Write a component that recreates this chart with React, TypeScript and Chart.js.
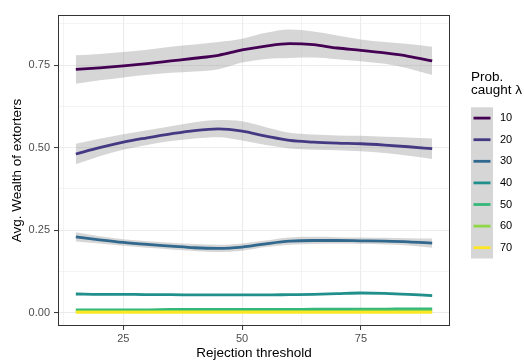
import { useEffect, useRef } from "react";
import { Chart, registerables } from "chart.js";

Chart.register(...registerables);

// Rejection thresholds at which the smoothed fits are evaluated
const threshold = [15, 20, 25, 30, 35, 40, 45, 50, 55, 60, 65, 70, 75, 80, 85, 90];

// Probability of being caught (λ) levels and their viridis colours
const lambdaLevels = ["10", "20", "30", "40", "50", "60", "70"];
const lambdaColors = ["#440154", "#443A83", "#31688E", "#21908C", "#35B779", "#8FD744", "#FDE725"];

// Smoothed average wealth of extorters with confidence band, per λ
const fit10 = [0.737, 0.742, 0.748, 0.755, 0.763, 0.771, 0.780, 0.796, 0.808, 0.815, 0.812, 0.802, 0.795, 0.787, 0.777, 0.763];
const hi10 = [0.780, 0.784, 0.790, 0.797, 0.806, 0.813, 0.820, 0.830, 0.848, 0.858, 0.852, 0.840, 0.828, 0.820, 0.814, 0.806];
const lo10 = [0.694, 0.704, 0.713, 0.721, 0.727, 0.731, 0.738, 0.758, 0.769, 0.772, 0.773, 0.768, 0.762, 0.754, 0.740, 0.720];

const fit20 = [0.481, 0.500, 0.517, 0.530, 0.542, 0.552, 0.557, 0.550, 0.535, 0.522, 0.517, 0.514, 0.512, 0.508, 0.503, 0.497];
const hi20 = [0.512, 0.527, 0.541, 0.553, 0.565, 0.577, 0.584, 0.580, 0.562, 0.545, 0.540, 0.537, 0.536, 0.533, 0.531, 0.528];
const lo20 = [0.450, 0.474, 0.494, 0.508, 0.520, 0.528, 0.532, 0.522, 0.508, 0.498, 0.494, 0.492, 0.489, 0.484, 0.476, 0.466];

const fit30 = [0.230, 0.221, 0.213, 0.207, 0.202, 0.197, 0.195, 0.199, 0.209, 0.217, 0.219, 0.219, 0.218, 0.217, 0.215, 0.211];
const hi30 = [0.244, 0.232, 0.223, 0.217, 0.212, 0.208, 0.206, 0.210, 0.219, 0.228, 0.230, 0.229, 0.228, 0.227, 0.226, 0.225];
const lo30 = [0.216, 0.210, 0.203, 0.197, 0.192, 0.187, 0.184, 0.188, 0.199, 0.206, 0.208, 0.209, 0.208, 0.207, 0.204, 0.197];

const fit40 = [0.057, 0.056, 0.056, 0.055, 0.055, 0.054, 0.054, 0.054, 0.054, 0.055, 0.056, 0.058, 0.060, 0.059, 0.056, 0.052];
const hi40 = [0.061, 0.059, 0.058, 0.057, 0.057, 0.056, 0.056, 0.056, 0.056, 0.057, 0.058, 0.060, 0.063, 0.062, 0.059, 0.056];
const lo40 = [0.053, 0.053, 0.054, 0.053, 0.053, 0.052, 0.052, 0.052, 0.052, 0.053, 0.054, 0.056, 0.057, 0.056, 0.053, 0.048];

const fit50 = [0.009, 0.009, 0.009, 0.009, 0.010, 0.010, 0.010, 0.010, 0.010, 0.010, 0.011, 0.011, 0.011, 0.011, 0.012, 0.012];
const hi50 = [0.011, 0.010, 0.010, 0.010, 0.011, 0.011, 0.011, 0.011, 0.011, 0.011, 0.012, 0.012, 0.012, 0.012, 0.013, 0.014];
const lo50 = [0.007, 0.008, 0.008, 0.008, 0.009, 0.009, 0.009, 0.009, 0.009, 0.009, 0.010, 0.010, 0.010, 0.010, 0.011, 0.010];

const fit60 = [0.004, 0.004, 0.004, 0.004, 0.004, 0.004, 0.004, 0.004, 0.004, 0.004, 0.004, 0.004, 0.005, 0.005, 0.005, 0.005];
const hi60 = [0.005, 0.005, 0.005, 0.005, 0.005, 0.005, 0.005, 0.005, 0.005, 0.005, 0.005, 0.005, 0.006, 0.006, 0.006, 0.006];
const lo60 = [0.003, 0.003, 0.003, 0.003, 0.003, 0.003, 0.003, 0.003, 0.003, 0.003, 0.003, 0.003, 0.004, 0.004, 0.004, 0.004];

const fit70 = [0.001, 0.001, 0.001, 0.001, 0.001, 0.001, 0.001, 0.001, 0.001, 0.001, 0.001, 0.001, 0.001, 0.001, 0.001, 0.001];
const hi70 = [0.002, 0.002, 0.002, 0.002, 0.002, 0.002, 0.002, 0.002, 0.002, 0.002, 0.002, 0.002, 0.002, 0.002, 0.002, 0.002];
const lo70 = [0.000, 0.000, 0.000, 0.000, 0.000, 0.000, 0.000, 0.000, 0.000, 0.000, 0.000, 0.000, 0.000, 0.000, 0.000, 0.000];

// Axis gridlines: major values are labelled, minor ones only get a faint line
const xGrid = [12.5, 25, 37.5, 50, 62.5, 75, 87.5];
const xLabelled = [25, 50, 75];
const yGrid = [0, 0.125, 0.25, 0.375, 0.5, 0.625, 0.75, 0.875];
const yLabelled = [0, 0.25, 0.5, 0.75];

const xTitle = "Rejection threshold";
const yTitle = "Avg. Wealth of extorters";
const legendTitle = ["Prob.", "caught λ"];

const FONT = "'Liberation Sans', Arial, Helvetica, sans-serif";
const BAND = "rgba(153,153,153,0.4)";
const GRID = "#EBEBEB";
const INK = "#333333";

const fits = [fit10, fit20, fit30, fit40, fit50, fit60, fit70];
const highs = [hi10, hi20, hi30, hi40, hi50, hi60, hi70];
const lows = [lo10, lo20, lo30, lo40, lo50, lo60, lo70];

const toPoints = (ys: number[]) => threshold.map((x, i) => ({ x, y: ys[i] }));

// Closed panel border, drawn over the plot like ggplot's theme_bw
const panelBorder = {
  id: "panelBorder",
  afterDraw(chart: any) {
    const { ctx, chartArea: a } = chart;
    ctx.save();
    ctx.strokeStyle = INK;
    ctx.lineWidth = 1;
    ctx.strokeRect(Math.round(a.left) + 0.5, Math.round(a.top) + 0.5, Math.round(a.right - a.left) - 1, Math.round(a.bottom - a.top) - 1);
    ctx.restore();
  },
};

// Legend with a grey key column, as geom_smooth keys show the band
const keyLegend = {
  id: "keyLegend",
  afterDraw(chart: any) {
    const { ctx } = chart;
    const x0 = 471;
    const keyW = 22;
    const keyH = 21.6;
    const top = 107.3;
    ctx.save();
    ctx.fillStyle = "#000000";
    ctx.font = `13.5px ${FONT}`;
    ctx.textBaseline = "middle";
    ctx.textAlign = "left";
    ctx.fillText(legendTitle[0], x0, 77);
    ctx.fillText(legendTitle[1], x0, 90.5);
    ctx.fillStyle = "#D6D6D6";
    ctx.fillRect(x0, top, keyW, keyH * lambdaLevels.length);
    ctx.font = `11px ${FONT}`;
    lambdaLevels.forEach((lvl, i) => {
      const cy = top + keyH * (i + 0.5);
      ctx.strokeStyle = lambdaColors[i];
      ctx.lineWidth = 2.8;
      ctx.beginPath();
      ctx.moveTo(x0 + 2.5, cy);
      ctx.lineTo(x0 + keyW - 2.5, cy);
      ctx.stroke();
      ctx.fillStyle = "#000000";
      ctx.fillText(lvl, 500, cy);
    });
    ctx.restore();
  },
};

export default function App() {
  const canvasRef = useRef<HTMLCanvasElement | null>(null);

  useEffect(() => {
    const canvas = canvasRef.current;
    if (!canvas) return;

    const datasets: any[] = [];
    lambdaLevels.forEach((lvl, i) => {
      datasets.push({
        label: `upper ${lvl}`,
        data: toPoints(highs[i]),
        fill: "+1",
        backgroundColor: BAND,
        borderColor: "transparent",
        borderWidth: 0,
        pointRadius: 0,
        cubicInterpolationMode: "monotone",
        order: 100 + i,
      });
      datasets.push({
        label: `lower ${lvl}`,
        data: toPoints(lows[i]),
        fill: false,
        borderColor: "transparent",
        borderWidth: 0,
        pointRadius: 0,
        cubicInterpolationMode: "monotone",
        order: 100 + i,
      });
    });
    lambdaLevels.forEach((lvl, i) => {
      datasets.push({
        label: lvl,
        data: toPoints(fits[i]),
        fill: false,
        borderColor: lambdaColors[i],
        borderWidth: 2.8,
        pointRadius: 0,
        cubicInterpolationMode: "monotone",
        borderCapStyle: "butt",
        order: 20 - i,
      });
    });

    const isMajorX = (v: number) => xLabelled.includes(v);
    const isMajorY = (v: number) => yLabelled.includes(v);

    const chart = new Chart(canvas, {
      type: "line",
      data: { datasets },
      options: {
        animation: false,
        responsive: false,
        devicePixelRatio: 1,
        layout: { padding: { left: 0, right: 74, top: 15, bottom: 0 } },
        plugins: { legend: { display: false }, tooltip: { enabled: false } },
        scales: {
          x: {
            type: "linear",
            min: 11.25,
            max: 93.75,
            afterBuildTicks: (scale: any) => {
              scale.ticks = xGrid.map((value) => ({ value }));
            },
            afterFit: (scale: any) => {
              scale.height = 35;
            },
            ticks: {
              autoSkip: false,
              maxRotation: 0,
              padding: 2,
              color: "#4D4D4D",
              font: { family: FONT, size: 11 },
              callback: (v: any) => (isMajorX(Number(v)) ? String(v) : ""),
            },
            grid: {
              color: GRID,
              lineWidth: (c: any) => (isMajorX(c.tick?.value) ? 1.1 : 0.55),
              tickColor: (c: any) => (isMajorX(c.tick?.value) ? INK : "rgba(0,0,0,0)"),
              tickLength: 4,
              tickWidth: 1,
            },
            border: { display: false },
            title: {
              display: true,
              text: xTitle,
              color: "#000000",
              font: { family: FONT, size: 13.5 },
              padding: { top: 0, bottom: 0 },
            },
          },
          y: {
            type: "linear",
            min: -0.04,
            max: 0.902,
            afterBuildTicks: (scale: any) => {
              scale.ticks = yGrid.map((value) => ({ value }));
            },
            afterFit: (scale: any) => {
              scale.width = 58;
            },
            ticks: {
              autoSkip: false,
              padding: 4,
              color: "#4D4D4D",
              font: { family: FONT, size: 11 },
              callback: (v: any) => (isMajorY(Number(v)) ? Number(v).toFixed(2) : ""),
            },
            grid: {
              color: GRID,
              lineWidth: (c: any) => (isMajorY(c.tick?.value) ? 1.1 : 0.55),
              tickColor: (c: any) => (isMajorY(c.tick?.value) ? INK : "rgba(0,0,0,0)"),
              tickLength: 4,
              tickWidth: 1,
            },
            border: { display: false },
            title: {
              display: true,
              text: yTitle,
              color: "#000000",
              font: { family: FONT, size: 13.5 },
              padding: { top: 9, bottom: 0 },
            },
          },
        },
      },
      plugins: [panelBorder, keyLegend],
    } as any);

    return () => chart.destroy();
  }, []);

  return (
    <div style={{ position: "absolute", left: 0, top: 0, width: 524, height: 361, background: "#FFFFFF" }}>
      <canvas ref={canvasRef} width={524} height={361} style={{ display: "block", width: 524, height: 361 }} />
    </div>
  );
}
